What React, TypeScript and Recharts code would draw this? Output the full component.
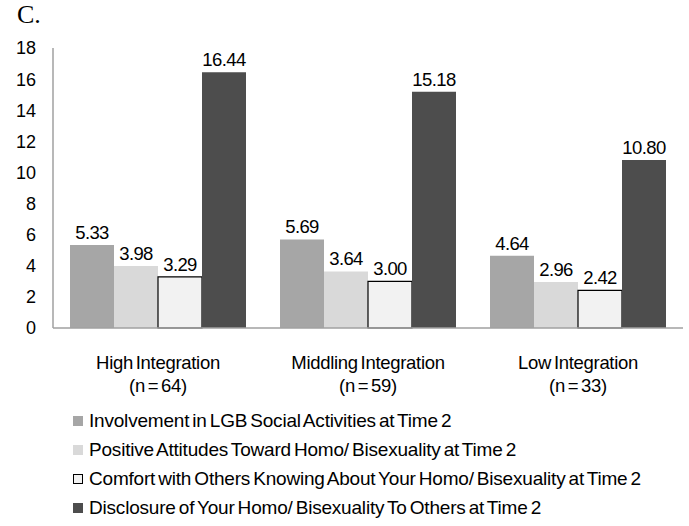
import React from 'react';
import { BarChart, Bar, XAxis, YAxis, LabelList } from 'recharts';

const groups = ['High Integration', 'Middling Integration', 'Low Integration'];
const groupN = [64, 59, 33];

const involvement = [5.33, 5.69, 4.64];
const attitudes = [3.98, 3.64, 2.96];
const comfort = [3.29, 3.0, 2.42];
const disclosure = [16.44, 15.18, 10.8];

const yTicks = [0, 2, 4, 6, 8, 10, 12, 14, 16, 18];

const seriesNames = [
  'Involvement in LGB Social Activities at Time 2',
  'Positive Attitudes Toward Homo/ Bisexuality at Time 2',
  'Comfort with Others Knowing About Your Homo/ Bisexuality at Time 2',
  'Disclosure of Your Homo/ Bisexuality To Others at Time 2',
];

const FONT = '"Liberation Sans", Arial, sans-serif';

const series = [
  { key: 'involvement', fill: '#a6a6a6', stroke: 'none' },
  { key: 'attitudes', fill: '#d9d9d9', stroke: 'none' },
  { key: 'comfort', fill: '#f2f2f2', stroke: '#000000' },
  { key: 'disclosure', fill: '#4d4d4d', stroke: 'none' },
];

const data = groups.map((g, i) => ({
  group: g,
  n: groupN[i],
  involvement: involvement[i],
  attitudes: attitudes[i],
  comfort: comfort[i],
  disclosure: disclosure[i],
}));

const CategoryTick = ({ x, y, payload, index }: any) => (
  <g transform={`translate(${x},${y})`}>
    <text x={0} y={0} dy={39} textAnchor="middle" fill="#000" fontSize={18.5} fontFamily={FONT} letterSpacing={-0.3} wordSpacing={-2}>
      {payload.value}
    </text>
    <text x={0} y={0} dy={62} textAnchor="middle" fill="#000" fontSize={18.5} fontFamily={FONT} letterSpacing={-0.3} wordSpacing={-2}>
      {`(n = ${groupN[index]})`}
    </text>
  </g>
);

const fmt = (v: any) => Number(v).toFixed(2);

export default function App() {
  return (
    <div style={{ position: 'absolute', left: 0, top: 0, width: 689, height: 526, background: '#fff', fontFamily: FONT }}>
      <div style={{ position: 'absolute', left: 17, top: 0, fontFamily: '"Liberation Serif", "Times New Roman", serif', fontSize: 26, color: '#000' }}>
        C.
      </div>
      <BarChart
        width={689}
        height={400}
        data={data}
        margin={{ top: 48, right: 6, left: 0, bottom: 0 }}
        barCategoryGap={17}
        barGap={0}
      >
        <YAxis
          width={53}
          domain={[0, 18]}
          ticks={yTicks}
          interval={0}
          tickLine={false}
          tickSize={0}
          tickMargin={17}
          axisLine={{ stroke: '#a0a0a0', strokeWidth: 1.5 }}
          tick={{ fontSize: 18, fill: '#000', fontFamily: FONT }}
        />
        <XAxis
          dataKey="group"
          height={72}
          tickLine={false}
          tickSize={0}
          axisLine={{ stroke: '#a0a0a0', strokeWidth: 1.5 }}
          tick={<CategoryTick />}
          interval={0}
        />
        {series.map((s) => (
          <Bar
            key={s.key}
            dataKey={s.key}
            fill={s.fill}
            stroke={s.stroke}
            strokeWidth={s.stroke === 'none' ? 0 : 1.2}
            isAnimationActive={false}
          >
            <LabelList
              dataKey={s.key}
              position="top"
              offset={6}
              formatter={fmt}
              style={{ fontSize: 18.5, fill: '#000', fontFamily: FONT, letterSpacing: -0.6 }}
            />
          </Bar>
        ))}
      </BarChart>
      <div style={{ position: 'absolute', left: 73, top: 406 }}>
        {series.map((s, i) => (
          <div key={s.key} style={{ display: 'flex', alignItems: 'center', height: 29, fontSize: 19, color: '#000', wordSpacing: -2, letterSpacing: -0.2, whiteSpace: 'nowrap' }}>
            <span
              style={{
                display: 'inline-block',
                width: s.stroke === 'none' ? 10 : 8,
                height: s.stroke === 'none' ? 10 : 8,
                background: s.fill,
                border: s.stroke === 'none' ? 'none' : '1px solid #000',
                marginRight: 6,
              }}
            />
            {seriesNames[i]}
          </div>
        ))}
      </div>
    </div>
  );
}
